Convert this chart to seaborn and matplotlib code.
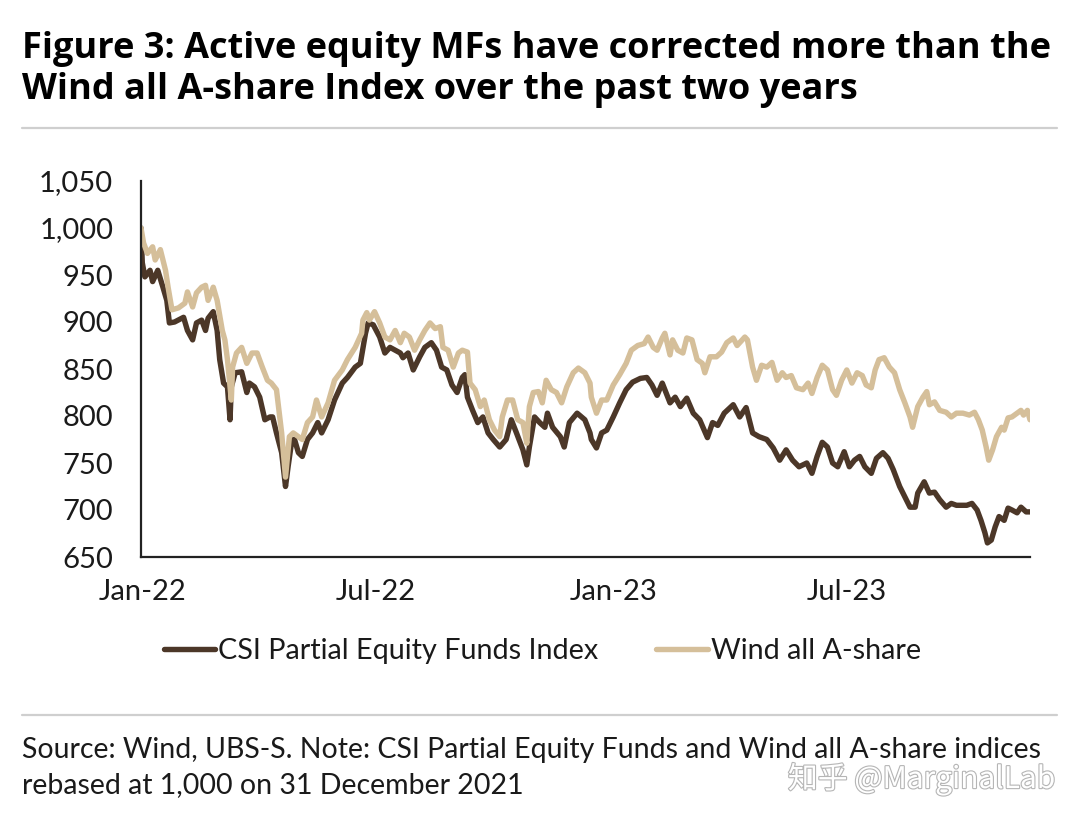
import numpy as np
import pandas as pd
import matplotlib
matplotlib.use("Agg")
import matplotlib.pyplot as plt
import matplotlib.patheffects as pe
from matplotlib.lines import Line2D
from matplotlib.ticker import FuncFormatter
import seaborn as sns

# -----------------------------------
# DATA (days counted from 31 Dec 2021)
# -----------------------------------
base_date = "2021-12-31"
series_names = ["CSI Partial Equity Funds Index", "Wind all A-share"]

csi_days = [0, 1, 3, 7, 9, 13, 17, 20, 22, 26, 33, 36, 40, 43, 47, 50, 52, 56, 59, 61,
            64, 67, 69, 70, 73, 78, 82, 84, 88, 92, 96, 100, 102, 105, 109, 112, 114, 117, 119, 122,
            125, 129, 133, 137, 140, 145, 150, 156, 160, 166, 170, 174, 176, 180, 185, 189, 193, 197, 201, 203,
            207, 211, 216, 220, 225, 229, 233, 237, 241, 245, 249, 251, 253, 257, 261, 265, 269, 273, 278, 283,
            287, 291, 296, 299, 301, 305, 309, 313, 315, 319, 325, 328, 332, 338, 344, 348, 349, 353, 357, 361,
            366, 371, 376, 381, 387, 392, 396, 400, 404, 410, 414, 418, 423, 428, 433, 439, 443, 447, 452, 459,
            464, 469, 474, 479, 485, 490, 495, 500, 505, 510, 516, 520, 524, 528, 532, 536, 540, 545, 549, 553,
            557, 561, 566, 570, 575, 579, 583, 588, 592, 596, 600, 602, 607, 611, 615, 619, 624, 628, 632, 640,
            644, 648, 651, 654, 656, 659, 662, 665, 669, 672, 675, 679, 682, 686, 689]
csi_values = [1000, 963, 948, 955, 943, 955, 937, 923, 899, 900, 905, 891, 881, 899, 902, 891, 904, 911, 891, 860,
              835, 831, 796, 831, 846, 847, 825, 835, 831, 820, 796, 799, 799, 782, 761, 725, 746, 775, 775, 761,
              757, 775, 782, 793, 782, 796, 817, 835, 841, 852, 856, 888, 899, 897, 884, 867, 873, 870, 867, 862,
              867, 849, 863, 873, 878, 870, 852, 849, 833, 825, 841, 844, 820, 806, 793, 799, 782, 775, 767, 775,
              796, 782, 764, 748, 767, 799, 793, 788, 803, 788, 778, 767, 793, 803, 796, 782, 775, 766, 782, 785,
              799, 814, 828, 836, 840, 841, 833, 822, 835, 814, 820, 810, 819, 803, 796, 777, 793, 790, 803, 812,
              799, 809, 782, 778, 775, 766, 753, 764, 753, 746, 750, 739, 757, 772, 767, 750, 746, 762, 746, 753,
              757, 746, 739, 755, 761, 755, 743, 725, 714, 703, 703, 718, 730, 718, 719, 711, 703, 707, 705, 705,
              707, 700, 689, 676, 665, 668, 682, 693, 689, 702, 700, 697, 703, 698, 698]

wind_days = [0, 2, 5, 9, 11, 15, 19, 21, 24, 29, 34, 36, 40, 43, 47, 50, 52, 56, 59, 63,
             65, 67, 70, 71, 74, 78, 82, 86, 90, 94, 98, 101, 105, 109, 112, 115, 118, 122, 125, 129,
             133, 136, 140, 145, 150, 156, 160, 166, 171, 172, 175, 177, 181, 185, 189, 193, 197, 201, 204, 208,
             212, 216, 220, 224, 228, 232, 234, 238, 242, 246, 249, 253, 255, 259, 263, 266, 270, 274, 278, 280,
             284, 288, 292, 296, 299, 301, 304, 308, 311, 314, 318, 322, 326, 330, 335, 339, 344, 348, 349, 353,
             357, 361, 366, 371, 376, 380, 385, 390, 393, 397, 400, 404, 406, 410, 412, 416, 420, 423, 427, 431,
             435, 437, 441, 446, 450, 454, 459, 462, 468, 470, 474, 477, 481, 485, 489, 493, 497, 500, 504, 508,
             513, 517, 520, 524, 528, 532, 536, 539, 543, 547, 551, 555, 559, 562, 566, 569, 572, 576, 580, 584,
             588, 592, 596, 598, 602, 606, 609, 611, 615, 619, 624, 628, 632, 637, 642, 646, 649, 652, 655, 657,
             660, 663, 667, 669, 672, 675, 679, 682, 684, 687, 689]
wind_values = [1000, 984, 973, 980, 966, 977, 955, 937, 913, 915, 920, 932, 916, 931, 937, 939, 923, 937, 923, 891,
               881, 860, 817, 852, 867, 873, 856, 867, 867, 852, 838, 835, 828, 782, 735, 778, 782, 778, 775, 793,
               799, 817, 799, 814, 838, 849, 860, 873, 888, 902, 910, 902, 911, 899, 884, 881, 891, 878, 888, 884,
               870, 881, 891, 899, 893, 895, 873, 870, 852, 867, 870, 868, 835, 828, 810, 817, 796, 785, 778, 799,
               817, 817, 796, 793, 771, 810, 825, 826, 814, 838, 828, 825, 814, 831, 846, 851, 846, 835, 820, 803,
               817, 817, 833, 844, 856, 870, 875, 877, 884, 873, 870, 883, 888, 865, 881, 870, 867, 883, 881, 860,
               856, 846, 863, 863, 868, 878, 883, 875, 884, 881, 852, 838, 854, 852, 857, 838, 846, 841, 843, 830,
               828, 835, 824, 841, 854, 849, 828, 822, 838, 849, 835, 846, 843, 833, 830, 849, 860, 862, 852, 846,
               828, 814, 799, 788, 810, 820, 826, 812, 815, 806, 804, 799, 803, 803, 801, 804, 796, 785, 767, 753,
               764, 778, 788, 785, 798, 799, 803, 806, 801, 806, 796]

x_tick_dates = ["2022-01-01", "2022-07-01", "2023-01-01", "2023-07-01"]
y_tick_values = [650, 700, 750, 800, 850, 900, 950, 1000, 1050]

title_text = ("Figure 3: Active equity MFs have corrected more than the\n"
              "Wind all A-share Index over the past two years")
source_lines = ["Source: Wind, UBS-S. Note: CSI Partial Equity Funds and Wind all A-share indices",
                "rebased at 1,000 on 31 December 2021"]
watermark_text = "知乎 @MarginalLab"

dark_brown = "#4c3728"
light_tan = "#d5bf9a"
text_color = "#1a1a1a"

# -----------------------------------
# TABLE FOR SEABORN
# -----------------------------------
start = pd.Timestamp(base_date)
frames = []
for name, days, vals in [(series_names[0], csi_days, csi_values),
                         (series_names[1], wind_days, wind_values)]:
    frames.append(pd.DataFrame({
        "date": start + pd.to_timedelta(days, unit="D"),
        "value": vals,
        "series": name,
    }))
df = pd.concat(frames, ignore_index=True)

# -----------------------------------
# PLOT
# -----------------------------------
sns.set_theme(style="white")
plt.rcParams["font.family"] = ["Lato", "DejaVu Sans"]

fig = plt.figure(figsize=(10.8, 8.24), dpi=100)
ax = fig.add_axes([141 / 1080, 1 - 557 / 824, (1030 - 141) / 1080, (557 - 181) / 824])

sns.lineplot(data=df, x="date", y="value", hue="series", hue_order=series_names,
             palette=[dark_brown, light_tan], linewidth=3.9, ax=ax, legend=False)

ax.set_ylim(650, 1050)
ax.set_xlim(start, start + pd.Timedelta(days=max(csi_days)))
ax.set_yticks(y_tick_values)
ax.yaxis.set_major_formatter(FuncFormatter(lambda v, p: f"{v:,.0f}"))
ax.set_xticks(pd.to_datetime(x_tick_dates))
ax.set_xticklabels([pd.Timestamp(d).strftime("%b-%y") for d in x_tick_dates])
ax.set_xlabel("")
ax.set_ylabel("")

sns.despine(ax=ax)
for side in ["left", "bottom"]:
    ax.spines[side].set_color("#222222")
    ax.spines[side].set_linewidth(1.6)
ax.tick_params(axis="both", direction="in", length=7, width=1.6, color="#222222",
               labelsize=21, labelcolor=text_color)
ax.tick_params(axis="y", pad=20)
ax.tick_params(axis="x", pad=16)

# legend
handles = [Line2D([0], [0], color=c, lw=3.9, solid_capstyle="round") for c in [dark_brown, light_tan]]
fig.legend(handles, series_names, loc="center", bbox_to_anchor=(0.502, 1 - 651 / 824),
           ncol=2, frameon=False, fontsize=20.7, handlelength=1.8, handletextpad=0.1,
           columnspacing=2.0, labelcolor=text_color)

# title, rules, source
fig.text(22 / 1080, 1 - 31 / 824, title_text, ha="left", va="top", fontsize=26,
         fontweight="bold", color="#000000", linespacing=1.18, family=["Open Sans", "DejaVu Sans"])
for y in [128, 715]:
    fig.add_artist(Line2D([22 / 1080, 1057 / 1080], [1 - y / 824] * 2, color="#cfcfcf", lw=1.6))
for y, line in zip([750, 785], source_lines):
    fig.text(22 / 1080, 1 - y / 824, line, ha="left", va="center", fontsize=20.5,
             color=text_color)
fig.text(1055 / 1080, 1 - 779 / 824, watermark_text, ha="right", va="center", fontsize=21.5,
         color="#ffffff", family=["Noto Sans CJK SC", "DejaVu Sans"],
         path_effects=[pe.withStroke(linewidth=1.6, foreground="#b5b5b5")])

fig.savefig("out.png", dpi=100)
